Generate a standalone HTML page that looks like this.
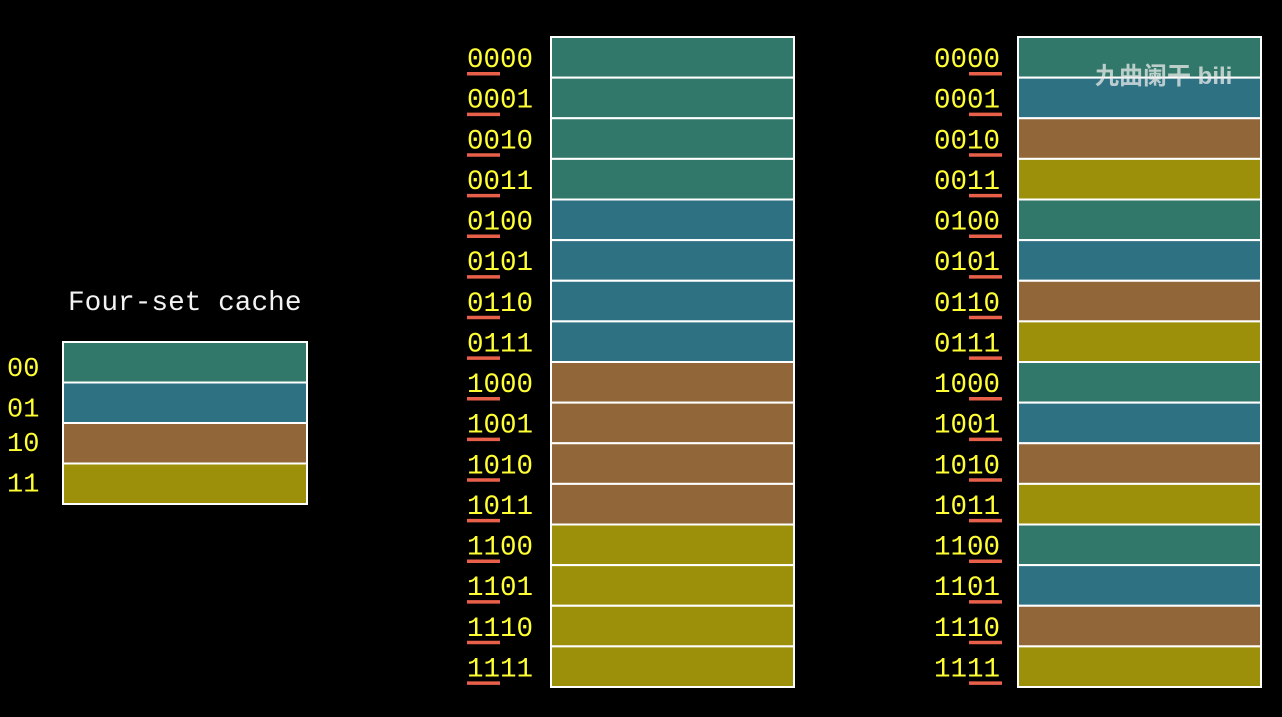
<!DOCTYPE html>
<html><head><meta charset="utf-8"><style>
body{margin:0;background:#000;width:1282px;height:717px;overflow:hidden;}
svg{display:block}
</style></head><body>
<svg id="s" width="1282" height="717">
<text x="68" y="310" fill="#f2f2f2" font-family="Liberation Mono, monospace" font-size="27.8">Four-set cache</text>
<text x="1095" y="84" fill="rgba(235,235,235,0.75)" font-family="Liberation Sans, Noto Sans CJK SC, sans-serif" font-size="24" font-weight="bold">九曲阑干 bili</text>
</svg>
<script>
const setColors=['#31786a','#2e7182','#916739','#9c900a'];
const setLabels=['00','01','10','11'];
const addresses=['0000','0001','0010','0011','0100','0101','0110','0111','1000','1001','1010','1011','1100','1101','1110','1111'];
const NS='http://www.w3.org/2000/svg';
const s=document.getElementById('s');
const wm=s.lastElementChild;
function el(t,a){const e=document.createElementNS(NS,t);for(const k in a)e.setAttribute(k,a[k]);s.insertBefore(e,wm);return e;}
const rh=40.5;
setLabels.forEach((l,i)=>{
  const y=342+i*rh;
  const r=el('rect',{x:63,y:y,width:244,height:rh,fill:setColors[i],stroke:'#fff','stroke-width':2});
  
  
  const t=el('text',{x:7,y:y+34-(i>1?6:0),fill:'#ffff33','font-family':'Liberation Mono, monospace','font-size':27});
  t.textContent=l;
  
  
});
const mh=650/16;
function column(x0,lx,mode){
  addresses.forEach((a,i)=>{
    const y=37+i*mh;
    const idx=mode==='high'?parseInt(a.slice(0,2),2):parseInt(a.slice(2),2);
    const r=el('rect',{x:x0,y:y,width:243,height:mh,fill:setColors[idx],stroke:'#fff','stroke-width':2});
    
    
    const t=el('text',{x:lx,y:y+30,fill:'#ffff33','font-family':'Liberation Mono, monospace','font-size':27.5});
    t.textContent=a;
    
    
    const ux=mode==='high'?lx:lx+35;
    const u=el('rect',{x:ux,y:y+35,width:33,height:3.5,fill:'#e8604a'});
    
    
  });
}
column(551,467,'high');
column(1018,934,'low');
</script>
</body></html>
